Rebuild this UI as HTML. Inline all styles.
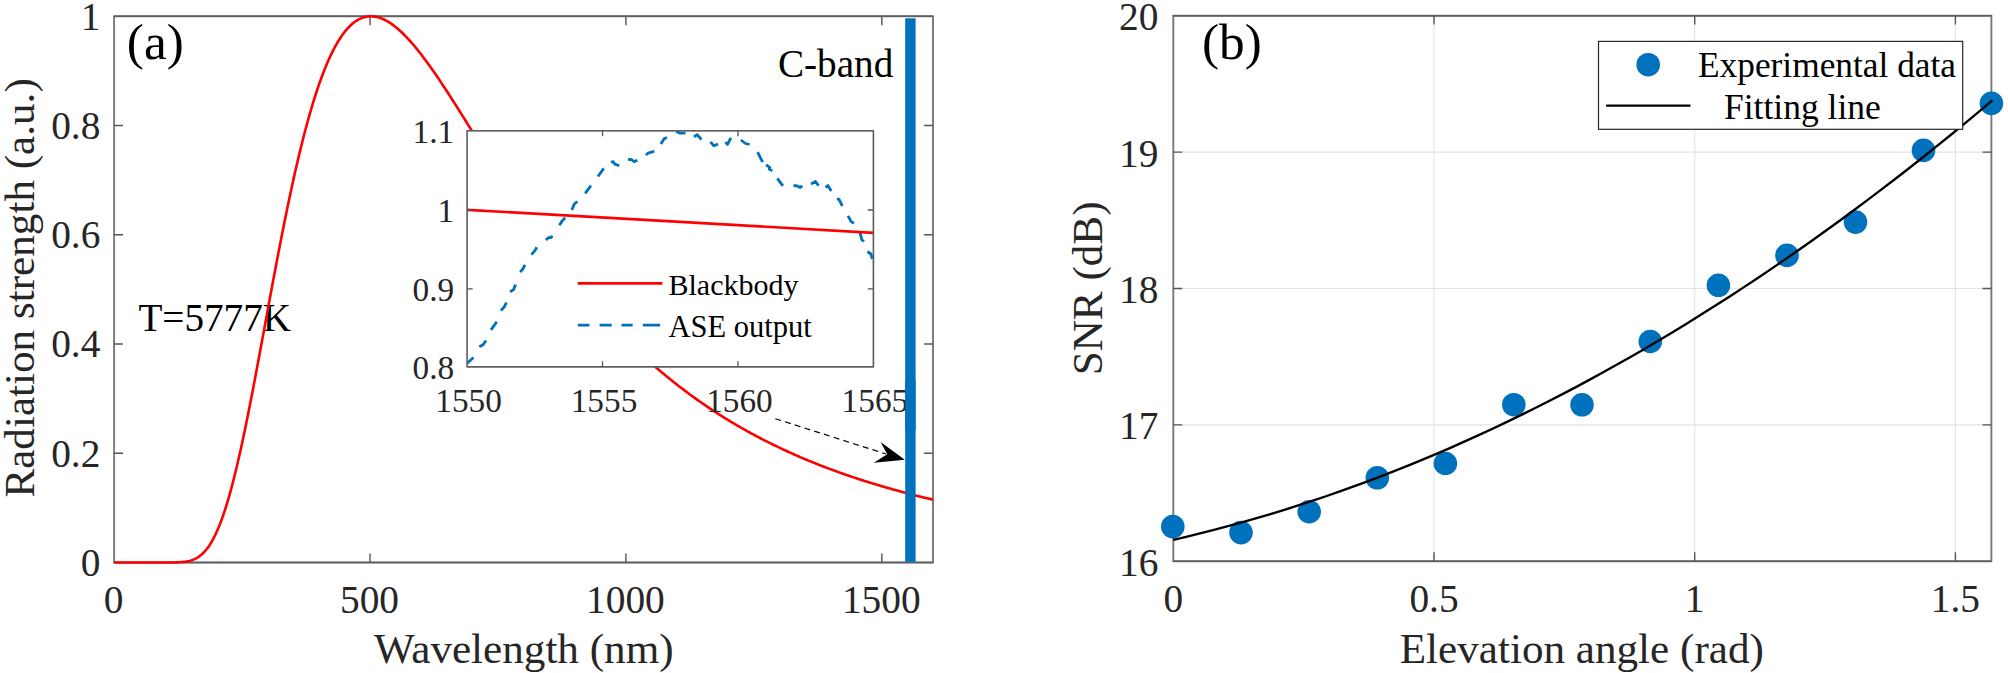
<!DOCTYPE html>
<html><head><meta charset="utf-8"><title>Figure</title>
<style>
html,body{margin:0;padding:0;background:#fff;}
body{width:2008px;height:673px;overflow:hidden;}
svg{display:block;font-family:'Liberation Serif', 'Times New Roman', serif;}
</style></head><body>
<svg width="2008" height="673" viewBox="0 0 2008 673">
<rect width="2008" height="673" fill="#fff"/>
<clipPath id="cl"><rect x="114.1" y="14.3" width="818.9" height="550.2"/></clipPath>
<text x="138.4" y="330.8" font-size="39.2" text-anchor="start" fill="#000">T=5777K</text>
<rect x="114.1" y="16.3" width="818.9" height="546.2" fill="none" stroke="#787878" stroke-width="1.9" stroke-linejoin="round"/>
<path d="M114.1 16.3H933 M114.1 562.5H933" fill="none" stroke="#606060" stroke-width="1.6" stroke-linecap="round"/>
<path d="M370.01 562.5v-8.9 M370.01 16.3v8.9 M625.91 562.5v-8.9 M625.91 16.3v8.9 M881.82 562.5v-8.9 M881.82 16.3v8.9 M114.1 453.26h8.9 M933 453.26h-8.9 M114.1 344.02h8.9 M933 344.02h-8.9 M114.1 234.78h8.9 M933 234.78h-8.9 M114.1 125.54h8.9 M933 125.54h-8.9 " fill="none" stroke="#555555" stroke-width="1.4"/>
<path d="M114.1 562.5 L114.61 562.5 L115.64 562.5 L116.66 562.5 L117.68 562.5 L118.71 562.5 L119.73 562.5 L120.76 562.5 L121.78 562.5 L122.81 562.5 L123.83 562.5 L124.85 562.5 L125.88 562.5 L126.9 562.5 L127.93 562.5 L128.95 562.5 L129.98 562.5 L131 562.5 L132.02 562.5 L133.05 562.5 L134.07 562.5 L135.1 562.5 L136.12 562.5 L137.15 562.5 L138.17 562.5 L139.19 562.5 L140.22 562.5 L141.24 562.5 L142.27 562.5 L143.29 562.5 L144.32 562.5 L145.34 562.5 L146.36 562.5 L147.39 562.5 L148.41 562.5 L149.44 562.5 L150.46 562.5 L151.49 562.5 L152.51 562.5 L153.53 562.5 L154.56 562.5 L155.58 562.5 L156.61 562.5 L157.63 562.5 L158.66 562.5 L159.68 562.5 L160.7 562.5 L161.73 562.5 L162.75 562.5 L163.78 562.5 L164.8 562.5 L165.83 562.5 L166.85 562.49 L167.87 562.49 L168.9 562.49 L169.92 562.48 L170.95 562.47 L171.97 562.46 L172.99 562.45 L174.02 562.44 L175.04 562.41 L176.07 562.39 L177.09 562.36 L178.12 562.32 L179.14 562.27 L180.16 562.21 L181.19 562.14 L182.21 562.06 L183.24 561.96 L184.26 561.84 L185.29 561.71 L186.31 561.55 L187.33 561.36 L188.36 561.15 L189.38 560.91 L190.41 560.64 L191.43 560.32 L192.46 559.97 L193.48 559.58 L194.5 559.14 L195.53 558.65 L196.55 558.1 L197.58 557.5 L198.6 556.84 L199.63 556.12 L200.65 555.33 L201.67 554.47 L202.7 553.53 L203.72 552.52 L204.75 551.43 L205.77 550.25 L206.8 548.99 L207.82 547.64 L208.84 546.2 L209.87 544.66 L210.89 543.03 L211.92 541.29 L212.94 539.46 L213.97 537.52 L214.99 535.48 L216.01 533.33 L217.04 531.08 L218.06 528.71 L219.09 526.24 L220.11 523.66 L221.14 520.97 L222.16 518.17 L223.18 515.26 L224.21 512.24 L225.23 509.11 L226.26 505.87 L227.28 502.53 L228.31 499.07 L229.33 495.52 L230.35 491.86 L231.38 488.09 L232.4 484.23 L233.43 480.26 L234.45 476.21 L235.48 472.05 L236.5 467.81 L237.52 463.47 L238.55 459.05 L239.57 454.55 L240.6 449.96 L241.62 445.29 L242.65 440.55 L243.67 435.74 L244.69 430.86 L245.72 425.91 L246.74 420.9 L247.77 415.83 L248.79 410.7 L249.81 405.52 L250.84 400.29 L251.86 395.02 L252.89 389.7 L253.91 384.34 L254.94 378.95 L255.96 373.52 L256.98 368.07 L258.01 362.59 L259.03 357.09 L260.06 351.57 L261.08 346.04 L262.11 340.49 L263.13 334.93 L264.15 329.37 L265.18 323.81 L266.2 318.24 L267.23 312.68 L268.25 307.12 L269.28 301.58 L270.3 296.05 L271.32 290.53 L272.35 285.03 L273.37 279.55 L274.4 274.09 L275.42 268.66 L276.45 263.25 L277.47 257.88 L278.49 252.54 L279.52 247.23 L280.54 241.96 L281.57 236.73 L282.59 231.54 L283.62 226.39 L284.64 221.29 L285.66 216.23 L286.69 211.22 L287.71 206.27 L288.74 201.36 L289.76 196.51 L290.79 191.71 L291.81 186.96 L292.83 182.28 L293.86 177.65 L294.88 173.08 L295.91 168.57 L296.93 164.13 L297.96 159.74 L298.98 155.42 L300 151.17 L301.03 146.97 L302.05 142.85 L303.08 138.79 L304.1 134.8 L305.13 130.87 L306.15 127.01 L307.17 123.22 L308.2 119.51 L309.22 115.85 L310.25 112.27 L311.27 108.76 L312.3 105.32 L313.32 101.95 L314.34 98.65 L315.37 95.42 L316.39 92.26 L317.42 89.16 L318.44 86.14 L319.46 83.19 L320.49 80.31 L321.51 77.5 L322.54 74.76 L323.56 72.09 L324.59 69.49 L325.61 66.96 L326.63 64.49 L327.66 62.1 L328.68 59.77 L329.71 57.51 L330.73 55.32 L331.76 53.19 L332.78 51.13 L333.8 49.14 L334.83 47.21 L335.85 45.34 L336.88 43.55 L337.9 41.81 L338.93 40.14 L339.95 38.53 L340.97 36.98 L342 35.5 L343.02 34.07 L344.05 32.71 L345.07 31.41 L346.1 30.16 L347.12 28.98 L348.14 27.85 L349.17 26.78 L350.19 25.76 L351.22 24.8 L352.24 23.9 L353.27 23.05 L354.29 22.26 L355.31 21.51 L356.34 20.83 L357.36 20.19 L358.39 19.6 L359.41 19.07 L360.44 18.58 L361.46 18.14 L362.48 17.75 L363.51 17.41 L364.53 17.12 L365.56 16.87 L366.58 16.67 L367.61 16.51 L368.63 16.4 L369.65 16.33 L370.68 16.3 L371.7 16.32 L372.73 16.37 L373.75 16.47 L374.78 16.61 L375.8 16.78 L376.82 17 L377.85 17.25 L378.87 17.54 L379.9 17.87 L380.92 18.23 L381.95 18.63 L382.97 19.06 L383.99 19.53 L385.02 20.03 L386.04 20.56 L387.07 21.12 L388.09 21.72 L389.11 22.35 L390.14 23.01 L391.16 23.7 L392.19 24.41 L393.21 25.16 L394.24 25.93 L395.26 26.73 L396.28 27.56 L397.31 28.41 L398.33 29.29 L399.36 30.2 L400.38 31.13 L401.41 32.08 L402.43 33.05 L403.45 34.05 L404.48 35.08 L405.5 36.12 L406.53 37.18 L407.55 38.27 L408.58 39.38 L409.6 40.5 L410.62 41.65 L411.65 42.81 L412.67 44 L413.7 45.2 L414.72 46.42 L415.75 47.65 L416.77 48.9 L417.79 50.17 L418.82 51.46 L419.84 52.76 L420.87 54.07 L421.89 55.4 L422.92 56.74 L423.94 58.1 L424.96 59.47 L425.99 60.85 L427.01 62.25 L428.04 63.65 L429.06 65.07 L430.09 66.5 L431.11 67.95 L432.13 69.4 L433.16 70.86 L434.18 72.33 L435.21 73.82 L436.23 75.31 L437.26 76.81 L438.28 78.32 L439.3 79.83 L440.33 81.36 L441.35 82.89 L442.38 84.43 L443.4 85.98 L444.43 87.54 L445.45 89.1 L446.47 90.67 L447.5 92.24 L448.52 93.82 L449.55 95.4 L450.57 96.99 L451.6 98.59 L452.62 100.19 L453.64 101.79 L454.67 103.4 L455.69 105.01 L456.72 106.63 L457.74 108.25 L458.77 109.87 L459.79 111.5 L460.81 113.13 L461.84 114.76 L462.86 116.39 L463.89 118.03 L464.91 119.67 L465.93 121.31 L466.96 122.95 L467.98 124.59 L469.01 126.24 L470.03 127.88 L471.06 129.53 L472.08 131.18 L473.1 132.83 L474.13 134.47 L475.15 136.12 L476.18 137.77 L477.2 139.42 L478.23 141.07 L479.25 142.72 L480.27 144.36 L481.3 146.01 L482.32 147.66 L483.35 149.3 L484.37 150.95 L485.4 152.59 L486.42 154.23 L487.44 155.87 L488.47 157.51 L489.49 159.15 L490.52 160.78 L491.54 162.42 L492.57 164.05 L493.59 165.68 L494.61 167.3 L495.64 168.93 L496.66 170.55 L497.69 172.17 L498.71 173.79 L499.74 175.4 L500.76 177.01 L501.78 178.62 L502.81 180.23 L503.83 181.83 L504.86 183.43 L505.88 185.02 L506.91 186.62 L507.93 188.21 L508.95 189.79 L509.98 191.37 L511 192.95 L512.03 194.53 L513.05 196.1 L514.08 197.67 L515.1 199.23 L516.12 200.79 L517.15 202.35 L518.17 203.9 L519.2 205.45 L520.22 206.99 L521.25 208.53 L522.27 210.06 L523.29 211.6 L524.32 213.12 L525.34 214.64 L526.37 216.16 L527.39 217.67 L528.42 219.18 L529.44 220.69 L530.46 222.19 L531.49 223.68 L532.51 225.17 L533.54 226.66 L534.56 228.14 L535.58 229.61 L536.61 231.08 L537.63 232.55 L538.66 234.01 L539.68 235.47 L540.71 236.92 L541.73 238.36 L542.75 239.81 L543.78 241.24 L544.8 242.67 L545.83 244.1 L546.85 245.52 L547.88 246.94 L548.9 248.35 L549.92 249.75 L550.95 251.16 L551.97 252.55 L553 253.94 L554.02 255.33 L555.05 256.71 L556.07 258.08 L557.09 259.45 L558.12 260.82 L559.14 262.17 L560.17 263.53 L561.19 264.88 L562.22 266.22 L563.24 267.56 L564.26 268.89 L565.29 270.22 L566.31 271.54 L567.34 272.86 L568.36 274.17 L569.39 275.48 L570.41 276.78 L571.43 278.07 L572.46 279.36 L573.48 280.65 L574.51 281.93 L575.53 283.2 L576.56 284.47 L577.58 285.74 L578.6 286.99 L579.63 288.25 L580.65 289.5 L581.68 290.74 L582.7 291.98 L583.73 293.21 L584.75 294.43 L585.77 295.66 L586.8 296.87 L587.82 298.08 L588.85 299.29 L589.87 300.49 L590.9 301.68 L591.92 302.87 L592.94 304.06 L593.97 305.24 L594.99 306.41 L596.02 307.58 L597.04 308.74 L598.07 309.9 L599.09 311.06 L600.11 312.21 L601.14 313.35 L602.16 314.49 L603.19 315.62 L604.21 316.75 L605.24 317.87 L606.26 318.99 L607.28 320.1 L608.31 321.21 L609.33 322.31 L610.36 323.41 L611.38 324.5 L612.4 325.59 L613.43 326.67 L614.45 327.74 L615.48 328.82 L616.5 329.88 L617.53 330.95 L618.55 332 L619.57 333.06 L620.6 334.1 L621.62 335.14 L622.65 336.18 L623.67 337.22 L624.7 338.24 L625.72 339.27 L626.74 340.28 L627.77 341.3 L628.79 342.31 L629.82 343.31 L630.84 344.31 L631.87 345.3 L632.89 346.29 L633.91 347.28 L634.94 348.26 L635.96 349.23 L636.99 350.2 L638.01 351.17 L639.04 352.13 L640.06 353.09 L641.08 354.04 L642.11 354.99 L643.13 355.93 L644.16 356.87 L645.18 357.8 L646.21 358.73 L647.23 359.66 L648.25 360.58 L649.28 361.5 L650.3 362.41 L651.33 363.32 L652.35 364.22 L653.38 365.12 L654.4 366.01 L655.42 366.9 L656.45 367.79 L657.47 368.67 L658.5 369.54 L659.52 370.42 L660.55 371.29 L661.57 372.15 L662.59 373.01 L663.62 373.86 L664.64 374.72 L665.67 375.56 L666.69 376.41 L667.72 377.25 L668.74 378.08 L669.76 378.91 L670.79 379.74 L671.81 380.56 L672.84 381.38 L673.86 382.19 L674.89 383 L675.91 383.81 L676.93 384.61 L677.96 385.41 L678.98 386.21 L680.01 387 L681.03 387.78 L682.05 388.57 L683.08 389.34 L684.1 390.12 L685.13 390.89 L686.15 391.66 L687.18 392.42 L688.2 393.18 L689.22 393.94 L690.25 394.69 L691.27 395.44 L692.3 396.18 L693.32 396.93 L694.35 397.66 L695.37 398.4 L696.39 399.13 L697.42 399.85 L698.44 400.58 L699.47 401.3 L700.49 402.01 L701.52 402.72 L702.54 403.43 L703.56 404.14 L704.59 404.84 L705.61 405.54 L706.64 406.23 L707.66 406.92 L708.69 407.61 L709.71 408.3 L710.73 408.98 L711.76 409.66 L712.78 410.33 L713.81 411 L714.83 411.67 L715.86 412.33 L716.88 412.99 L717.9 413.65 L718.93 414.31 L719.95 414.96 L720.98 415.6 L722 416.25 L723.03 416.89 L724.05 417.53 L725.07 418.16 L726.1 418.8 L727.12 419.42 L728.15 420.05 L729.17 420.67 L730.2 421.29 L731.22 421.91 L732.24 422.52 L733.27 423.13 L734.29 423.74 L735.32 424.34 L736.34 424.94 L737.37 425.54 L738.39 426.14 L739.41 426.73 L740.44 427.32 L741.46 427.91 L742.49 428.49 L743.51 429.07 L744.54 429.65 L745.56 430.22 L746.58 430.79 L747.61 431.36 L748.63 431.93 L749.66 432.49 L750.68 433.05 L751.7 433.61 L752.73 434.17 L753.75 434.72 L754.78 435.27 L755.8 435.81 L756.83 436.36 L757.85 436.9 L758.87 437.44 L759.9 437.98 L760.92 438.51 L761.95 439.04 L762.97 439.57 L764 440.09 L765.02 440.62 L766.04 441.14 L767.07 441.65 L768.09 442.17 L769.12 442.68 L770.14 443.19 L771.17 443.7 L772.19 444.21 L773.21 444.71 L774.24 445.21 L775.26 445.71 L776.29 446.2 L777.31 446.69 L778.34 447.18 L779.36 447.67 L780.38 448.16 L781.41 448.64 L782.43 449.12 L783.46 449.6 L784.48 450.08 L785.51 450.55 L786.53 451.02 L787.55 451.49 L788.58 451.96 L789.6 452.42 L790.63 452.88 L791.65 453.34 L792.68 453.8 L793.7 454.26 L794.72 454.71 L795.75 455.16 L796.77 455.61 L797.8 456.06 L798.82 456.5 L799.85 456.94 L800.87 457.38 L801.89 457.82 L802.92 458.26 L803.94 458.69 L804.97 459.12 L805.99 459.55 L807.02 459.98 L808.04 460.4 L809.06 460.83 L810.09 461.25 L811.11 461.67 L812.14 462.08 L813.16 462.5 L814.19 462.91 L815.21 463.32 L816.23 463.73 L817.26 464.14 L818.28 464.54 L819.31 464.95 L820.33 465.35 L821.36 465.75 L822.38 466.14 L823.4 466.54 L824.43 466.93 L825.45 467.33 L826.48 467.71 L827.5 468.1 L828.52 468.49 L829.55 468.87 L830.57 469.25 L831.6 469.63 L832.62 470.01 L833.65 470.39 L834.67 470.76 L835.69 471.14 L836.72 471.51 L837.74 471.88 L838.77 472.25 L839.79 472.61 L840.82 472.98 L841.84 473.34 L842.86 473.7 L843.89 474.06 L844.91 474.41 L845.94 474.77 L846.96 475.12 L847.99 475.48 L849.01 475.83 L850.03 476.18 L851.06 476.52 L852.08 476.87 L853.11 477.21 L854.13 477.55 L855.16 477.89 L856.18 478.23 L857.2 478.57 L858.23 478.91 L859.25 479.24 L860.28 479.57 L861.3 479.9 L862.33 480.23 L863.35 480.56 L864.37 480.89 L865.4 481.21 L866.42 481.53 L867.45 481.86 L868.47 482.18 L869.5 482.49 L870.52 482.81 L871.54 483.13 L872.57 483.44 L873.59 483.75 L874.62 484.07 L875.64 484.37 L876.67 484.68 L877.69 484.99 L878.71 485.29 L879.74 485.6 L880.76 485.9 L881.79 486.2 L882.81 486.5 L883.84 486.8 L884.86 487.1 L885.88 487.39 L886.91 487.69 L887.93 487.98 L888.96 488.27 L889.98 488.56 L891.01 488.85 L892.03 489.14 L893.05 489.42 L894.08 489.71 L895.1 489.99 L896.13 490.27 L897.15 490.55 L898.17 490.83 L899.2 491.11 L900.22 491.39 L901.25 491.66 L902.27 491.94 L903.3 492.21 L904.32 492.48 L905.34 492.75 L906.37 493.02 L907.39 493.29 L908.42 493.55 L909.44 493.82 L910.47 494.08 L911.49 494.35 L912.51 494.61 L913.54 494.87 L914.56 495.13 L915.59 495.39 L916.61 495.64 L917.64 495.9 L918.66 496.15 L919.68 496.41 L920.71 496.66 L921.73 496.91 L922.76 497.16 L923.78 497.41 L924.81 497.66 L925.83 497.9 L926.85 498.15 L927.88 498.39 L928.9 498.64 L929.93 498.88 L930.95 499.12 L931.98 499.36 L933 499.6" fill="none" stroke="#ff0000" stroke-width="2.6" stroke-linejoin="round" clip-path="url(#cl)"/>
<rect x="905.2" y="18.3" width="10.4" height="543.5" fill="#0072bd"/>
<text x="113.6" y="612.8" font-size="39.4" text-anchor="middle" fill="#262626">0</text>
<text x="369.51" y="612.8" font-size="39.4" text-anchor="middle" fill="#262626">500</text>
<text x="625.41" y="612.8" font-size="39.4" text-anchor="middle" fill="#262626">1000</text>
<text x="881.32" y="612.8" font-size="39.4" text-anchor="middle" fill="#262626">1500</text>
<text x="100.4" y="575.85" font-size="39.4" text-anchor="end" fill="#262626">0</text>
<text x="100.4" y="466.61" font-size="39.4" text-anchor="end" fill="#262626">0.2</text>
<text x="100.4" y="357.37" font-size="39.4" text-anchor="end" fill="#262626">0.4</text>
<text x="100.4" y="248.13" font-size="39.4" text-anchor="end" fill="#262626">0.6</text>
<text x="100.4" y="138.89" font-size="39.4" text-anchor="end" fill="#262626">0.8</text>
<text x="100.4" y="29.65" font-size="39.4" text-anchor="end" fill="#262626">1</text>
<text x="523.8" y="663.1" font-size="43.15" text-anchor="middle" fill="#262626">Wavelength (nm)</text>
<text transform="translate(33.8 287.9) rotate(-90)" font-size="43.15" text-anchor="middle" fill="#262626">Radiation strength (a.u.)</text>
<text x="126.8" y="59.4" font-size="51.3" text-anchor="start" fill="#000">(a)</text>
<text x="777.9" y="76.9" font-size="39.2" text-anchor="start" fill="#000">C-band</text>
<rect x="467.1" y="130.7" width="406.3" height="236.1" fill="#fff"/>
<clipPath id="ci"><rect x="467.1" y="129.7" width="407.3" height="238.1"/></clipPath>
<path d="M466.9 363.6 L473.5 357.4 M479.3 346.8 L483.1 344.7 L486 340.5 M491 329.9 L496.8 321.8 M500.9 310.6 L504.3 306.8 L506.4 302.5 M510 291.8 L513.4 289.9 L515.6 284.6 M520.2 272.2 L523.1 268.7 L524.9 264.9 M531.4 254.7 L534.9 250.6 L536.8 247.2 M545.9 240 L548.4 237.7 L551.1 237.7 L552.1 235.6 M559.3 225.2 L562.4 220.6 L565.1 217.7 M571.8 210 L574.3 204 L577.4 201.5 M585.2 193.4 L590.9 185.7 M598 176.5 L603.7 168.4 M611.1 162.4 L613 161.6 L614.9 164.1 L619.3 165.7 M628 159.7 L631.1 159.4 L634.2 161.6 L637.4 160.3 M645.8 155 L648.6 152.8 L651.7 152.2 L654.2 151 M660.9 144.1 L664.3 138.5 L667 137.7 M676.1 131.2 L679.9 133.2 L685.5 133.2 M693.9 136.8 L697.1 134.6 L701.4 139.5 M710.5 142 L713.7 145.7 L718 144.1 M725.5 142 L727.4 144.5 L730.9 137.9 M740.9 140 L745.5 143.5 L749.6 144.5 M757.6 152.2 L762.6 162.2 M766.1 164.9 L769.8 167.4 L769.2 169.1 L772.3 170.9 M777.3 178.4 L782.9 185.9 M793.5 185.5 L797.4 186 L800.2 187.5 L802.2 185.8 M811 184 L815.5 181.5 L818.6 185.8 M825.5 187.4 L828 185.6 L831.2 191 M836.8 199.1 L838.9 199.1 L842.4 206 M848 215.9 L851.2 221.6 L853.9 223.4 M860.1 232.8 L861.8 239.7 L863.9 241.5 M867.4 251.5 L870.9 254 L872.4 259" fill="none" stroke="#0072bd" stroke-width="2.8" stroke-linejoin="round" clip-path="url(#ci)"/>
<path d="M467.1 209.8L873.4 232.8" fill="none" stroke="#ff0000" stroke-width="2.7"/>
<rect x="467.1" y="130.7" width="406.3" height="236.1" fill="none" stroke="#5c5c5c" stroke-width="1.6" stroke-linejoin="round"/>
<path d="M467.1 130.7H873.4 M467.1 366.8H873.4" fill="none" stroke="#606060" stroke-width="1.3" stroke-linecap="round"/>
<path d="M602.53 366.8v-5.6 M602.53 130.7v5.6 M737.97 366.8v-5.6 M737.97 130.7v5.6 M467.1 288.8h5.6 M873.4 288.8h-5.6 M467.1 210h5.6 M873.4 210h-5.6 " fill="none" stroke="#555555" stroke-width="1.3"/>
<text x="468.6" y="411.5" font-size="33.3" text-anchor="middle" fill="#262626">1550</text>
<text x="604.03" y="411.5" font-size="33.3" text-anchor="middle" fill="#262626">1555</text>
<text x="739.47" y="411.5" font-size="33.3" text-anchor="middle" fill="#262626">1560</text>
<text x="874.9" y="411.5" font-size="33.3" text-anchor="middle" fill="#262626">1565</text>
<text x="454.2" y="379.3" font-size="33.3" text-anchor="end" fill="#262626">0.8</text>
<text x="454.2" y="300.6" font-size="33.3" text-anchor="end" fill="#262626">0.9</text>
<text x="454.2" y="221.9" font-size="33.3" text-anchor="end" fill="#262626">1</text>
<text x="454.2" y="143.2" font-size="33.3" text-anchor="end" fill="#262626">1.1</text>
<path d="M577.7 283.3H662.4" stroke="#ff0000" stroke-width="2.7"/>
<path d="M577.8 325.2H589.4M599.6 325.2H611.7M621.5 325.2H632.7M642.9 325.2H660.2" stroke="#0072bd" stroke-width="2.7"/>
<text x="668.5" y="294.5" font-size="30" text-anchor="start" fill="#000">Blackbody</text>
<text x="668.5" y="336.5" font-size="30.5" text-anchor="start" fill="#000">ASE output</text>
<rect x="905.2" y="380" width="10.4" height="50" fill="#0072bd"/>
<path d="M775.3 418.7L886 454" stroke="#000" stroke-width="1.2" stroke-dasharray="6 4.2"/>
<path d="M904.8 459.8L880.6 441.9L887.2 454.2L873.8 462.7Z" fill="#000"/>
<path d="M1434 15.7V561.2 M1694.7 15.7V561.2 M1955.4 15.7V561.2 M1173.3 424.83H1991.4 M1173.3 288.45H1991.4 M1173.3 152.08H1991.4 " fill="none" stroke="#e3e3e3" stroke-width="1.1"/>
<rect x="1173.3" y="15.7" width="818.1" height="545.5" fill="none" stroke="#787878" stroke-width="1.9" stroke-linejoin="round"/>
<path d="M1173.3 15.7H1991.4 M1173.3 561.2H1991.4" fill="none" stroke="#606060" stroke-width="1.6" stroke-linecap="round"/>
<path d="M1434 561.2v-8.9 M1434 15.7v8.9 M1694.7 561.2v-8.9 M1694.7 15.7v8.9 M1955.4 561.2v-8.9 M1955.4 15.7v8.9 M1173.3 424.83h8.9 M1991.4 424.83h-8.9 M1173.3 288.45h8.9 M1991.4 288.45h-8.9 M1173.3 152.08h8.9 M1991.4 152.08h-8.9 " fill="none" stroke="#555555" stroke-width="1.4"/>
<circle cx="1172.8" cy="526.6" r="11.8" fill="#0072bd"/>
<circle cx="1241" cy="532.6" r="11.8" fill="#0072bd"/>
<circle cx="1309.2" cy="511.7" r="11.8" fill="#0072bd"/>
<circle cx="1377.3" cy="477.8" r="11.8" fill="#0072bd"/>
<circle cx="1445.4" cy="463.5" r="11.8" fill="#0072bd"/>
<circle cx="1513.8" cy="404.7" r="11.8" fill="#0072bd"/>
<circle cx="1582" cy="404.8" r="11.8" fill="#0072bd"/>
<circle cx="1650.3" cy="341.5" r="11.8" fill="#0072bd"/>
<circle cx="1718.4" cy="285.3" r="11.8" fill="#0072bd"/>
<circle cx="1787" cy="255.4" r="11.8" fill="#0072bd"/>
<circle cx="1855.5" cy="222.1" r="11.8" fill="#0072bd"/>
<circle cx="1923.5" cy="150.4" r="11.8" fill="#0072bd"/>
<circle cx="1991.4" cy="103.4" r="11.8" fill="#0072bd"/>
<path d="M1173.3 539.77 L1187.18 536.54 L1201.06 533.16 L1214.94 529.65 L1228.83 525.98 L1242.71 522.17 L1256.59 518.22 L1270.47 514.11 L1284.35 509.87 L1298.23 505.48 L1312.12 500.94 L1326 496.26 L1339.88 491.43 L1353.76 486.46 L1367.64 481.34 L1381.52 476.07 L1395.41 470.66 L1409.29 465.11 L1423.17 459.41 L1437.05 453.56 L1450.93 447.57 L1464.81 441.43 L1478.69 435.15 L1492.58 428.72 L1506.46 422.14 L1520.34 415.42 L1534.22 408.56 L1548.1 401.55 L1561.98 394.39 L1575.87 387.09 L1589.75 379.65 L1603.63 372.05 L1617.51 364.32 L1631.39 356.43 L1645.27 348.4 L1659.16 340.23 L1673.04 331.91 L1686.92 323.45 L1700.8 314.84 L1714.68 306.08 L1728.56 297.18 L1742.44 288.13 L1756.33 278.94 L1770.21 269.6 L1784.09 260.12 L1797.97 250.49 L1811.85 240.72 L1825.73 230.8 L1839.62 220.73 L1853.5 210.52 L1867.38 200.16 L1881.26 189.66 L1895.14 179.01 L1909.02 168.22 L1922.91 157.28 L1936.79 146.2 L1950.67 134.97 L1964.55 123.6 L1978.43 112.08 L1992.31 100.41" fill="none" stroke="#000" stroke-width="2.35"/>
<rect x="1598.5" y="41.4" width="364.2" height="87.9" fill="#fff" stroke="#262626" stroke-width="1.2"/>
<circle cx="1648.2" cy="64.7" r="11.8" fill="#0072bd"/>
<path d="M1606.1 105.6H1690.5" stroke="#000" stroke-width="2.35"/>
<text x="1698" y="77" font-size="35.35" text-anchor="start" fill="#000">Experimental data</text>
<text x="1724" y="118.6" font-size="35.5" text-anchor="start" fill="#000">Fitting line</text>
<text x="1173.3" y="611.9" font-size="39.4" text-anchor="middle" fill="#262626">0</text>
<text x="1434" y="611.9" font-size="39.4" text-anchor="middle" fill="#262626">0.5</text>
<text x="1694.7" y="611.9" font-size="39.4" text-anchor="middle" fill="#262626">1</text>
<text x="1955.4" y="611.9" font-size="39.4" text-anchor="middle" fill="#262626">1.5</text>
<text x="1158.4" y="575.7" font-size="39.4" text-anchor="end" fill="#262626">16</text>
<text x="1158.4" y="439.33" font-size="39.4" text-anchor="end" fill="#262626">17</text>
<text x="1158.4" y="302.95" font-size="39.4" text-anchor="end" fill="#262626">18</text>
<text x="1158.4" y="166.58" font-size="39.4" text-anchor="end" fill="#262626">19</text>
<text x="1158.4" y="30.2" font-size="39.4" text-anchor="end" fill="#262626">20</text>
<text x="1581.8" y="662.9" font-size="43.15" text-anchor="middle" fill="#262626">Elevation angle (rad)</text>
<text transform="translate(1101.6 288.4) rotate(-90)" font-size="43.15" text-anchor="middle" fill="#262626">SNR (dB)</text>
<text x="1202" y="59.4" font-size="51.3" text-anchor="start" fill="#000">(b)</text>
</svg>
</body></html>
